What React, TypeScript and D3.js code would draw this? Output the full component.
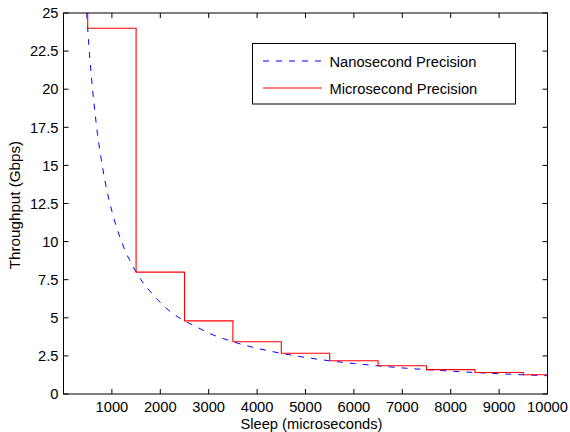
import React from "react";
import * as d3 from "d3";

const xTicks = [1000, 2000, 3000, 4000, 5000, 6000, 7000, 8000, 9000, 10000];
const yTicks = [0, 2.5, 5, 7.5, 10, 12.5, 15, 17.5, 20, 22.5, 25];

const nanoX = [480, 500, 550, 600, 650, 700, 750, 800, 900, 1000, 1100, 1200, 1300, 1400, 1500, 1600, 1800, 2000, 2250, 2500, 2750, 3000, 3500, 4000, 4500, 5000, 5500, 6000, 6500, 7000, 7500, 8000, 8500, 9000, 9500, 10000];
const nanoY = [25, 24, 21.8, 20, 18.5, 17.1, 16, 15, 13.3, 12, 10.9, 10, 9.2, 8.6, 8, 7.5, 6.7, 6, 5.3, 4.8, 4.4, 4, 3.43, 3, 2.67, 2.4, 2.18, 2, 1.85, 1.71, 1.6, 1.5, 1.41, 1.33, 1.26, 1.2];

const microX = [480, 500, 1500, 2500, 3500, 4500, 5500, 6500, 7500, 8500, 9500, 10000];
const microY = [25, 24, 8, 4.8, 3.43, 2.67, 2.18, 1.85, 1.6, 1.41, 1.26, 1.26];

const seriesNames = ["Nanosecond Precision", "Microsecond Precision"];

const W = 570, H = 432;
const L = 63.5, R = 547.5, T = 13, B = 394;
const FONT = "'Liberation Sans', Arial, Helvetica, sans-serif";
const FS = 14.7;

export default function App() {
  const x = d3.scaleLinear().domain([0, 10000]).range([L, R]);
  const y = d3.scaleLinear().domain([0, 25]).range([B, T]);

  const nanoPts = nanoX.map((v, i) => [v, nanoY[i]] as [number, number]);
  const microPts = microX.map((v, i) => [v, microY[i]] as [number, number]);

  const nanoLine = d3.line<[number, number]>().x(d => x(d[0])).y(d => y(d[1])).curve(d3.curveMonotoneX)(nanoPts) || "";
  const microLine = d3.line<[number, number]>().x(d => x(d[0])).y(d => y(d[1])).curve(d3.curveStepAfter)(microPts) || "";

  const tl = 5;
  const legX = 252.5, legY = 43.5, legW = 263, legH = 60.5;

  return (
    <div style={{ position: "absolute", left: 0, top: 0 }}>
      <svg width={W} height={H} style={{ display: "block", background: "#fff" }} fontFamily={FONT}>
        <defs>
          <clipPath id="plotclip">
            <rect x={L} y={T} width={R - L} height={B - T} />
          </clipPath>
        </defs>
        <rect x={0} y={0} width={W} height={H} fill="#fff" />
        <g clipPath="url(#plotclip)">
          <path d={nanoLine} fill="none" stroke="#0000ff" strokeWidth={1} strokeDasharray="6,7" />
          <path d={microLine} fill="none" stroke="#ff0000" strokeWidth={1.1} />
        </g>
        <rect x={L} y={T} width={R - L} height={B - T} fill="none" stroke="#000" strokeWidth={1} />
        {xTicks.map(t => (
          <g key={"x" + t}>
            <line x1={x(t)} x2={x(t)} y1={B} y2={B - tl} stroke="#000" />
            <line x1={x(t)} x2={x(t)} y1={T} y2={T + tl} stroke="#000" />
            <text x={x(t)} y={411.5} fontSize={FS} textAnchor="middle" fill="#000">{t}</text>
          </g>
        ))}
        {yTicks.map(t => (
          <g key={"y" + t}>
            <line x1={L} x2={L + tl} y1={y(t)} y2={y(t)} stroke="#000" />
            <line x1={R} x2={R - tl} y1={y(t)} y2={y(t)} stroke="#000" />
            <text x={58.5} y={y(t)} dy="0.36em" fontSize={FS} textAnchor="end" fill="#000">{t}</text>
          </g>
        ))}
        <text x={(L + R) / 2 + 6} y={429} fontSize={FS} textAnchor="middle" fill="#000">Sleep (microseconds)</text>
        <text transform={`translate(20,205) rotate(-90)`} fontSize={15.2} textAnchor="middle" fill="#000">Throughput (Gbps)</text>
        <rect x={legX} y={legY} width={legW} height={legH} fill="#fff" stroke="#000" strokeWidth={1} />
        <line x1={263} x2={322} y1={61} y2={61} stroke="#0000ff" strokeDasharray="6,7" />
        <text x={329.5} y={61.5} dy="0.36em" fontSize={FS} fill="#000">{seriesNames[0]}</text>
        <line x1={263} x2={322} y1={88} y2={88} stroke="#ff0000" />
        <text x={329.5} y={89} dy="0.36em" fontSize={FS} fill="#000">{seriesNames[1]}</text>
      </svg>
    </div>
  );
}
